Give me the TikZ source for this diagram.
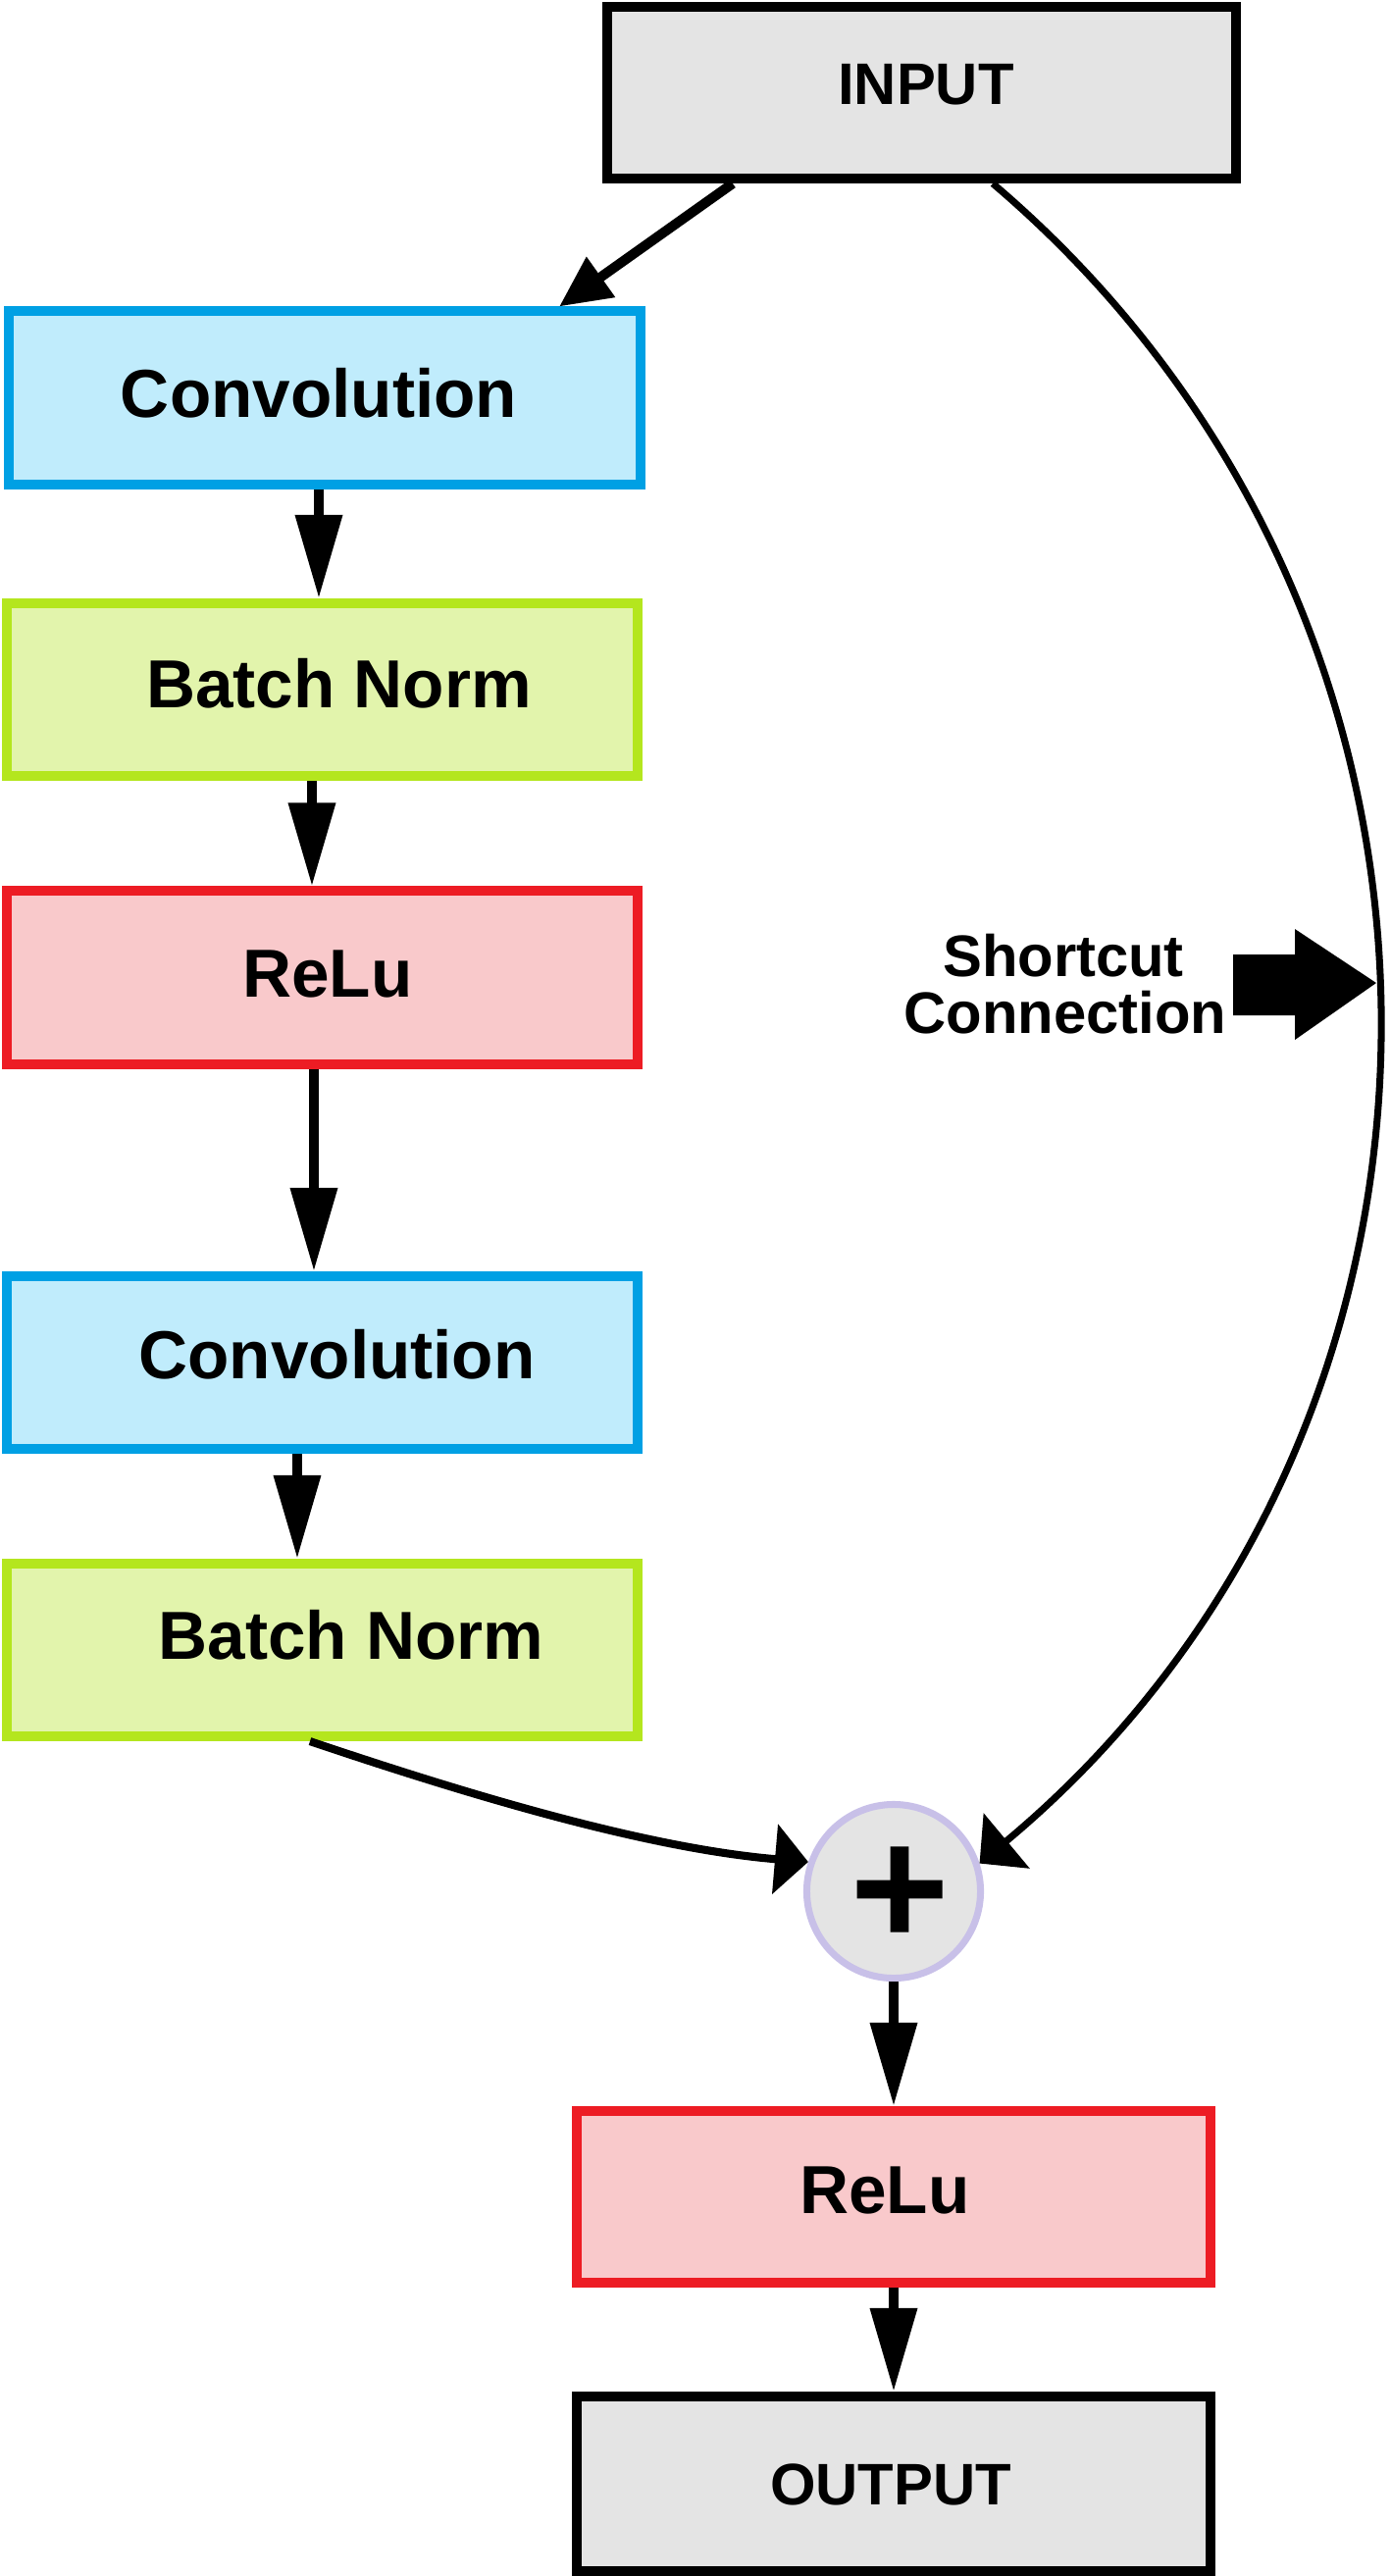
\documentclass[tikz,border=0pt]{standalone}
\usepackage{fontspec}
\setmainfont{Liberation Sans}
\newfontfamily\plusfont[FakeBold=2.5]{DejaVu Sans Bold}
\usetikzlibrary{arrows.meta}
\definecolor{convfill}{RGB}{192,236,252}
\definecolor{convdraw}{RGB}{0,160,228}
\definecolor{bnfill}{RGB}{226,244,172}
\definecolor{bndraw}{RGB}{180,230,30}
\definecolor{relufill}{RGB}{249,201,203}
\definecolor{reludraw}{RGB}{237,28,36}
\definecolor{iofill}{RGB}{228,228,228}
\definecolor{plusdraw}{RGB}{200,192,232}
\begin{document}
\begin{tikzpicture}[x=0.01cm, y=-0.01cm,
  box/.style={rectangle, line width=2.85pt, inner sep=0pt, minimum width=6.43cm, minimum height=1.76cm},
  convbox/.style={box, draw=convdraw, fill=convfill},
  bnbox/.style={box, draw=bndraw, fill=bnfill},
  relubox/.style={box, draw=reludraw, fill=relufill},
  iobox/.style={box, draw=black, fill=iofill},
  lbl/.style={anchor=base, inner sep=0pt, font=\fontsize{19.7}{23}\selectfont\bfseries},
  smlbl/.style={anchor=base, inner sep=0pt, font=\fontsize{17}{20}\selectfont\bfseries},
  varr/.style={line width=2.85pt, -{Triangle[length=8.5mm, width=4.6mm]}},
  iarr/.style={line width=2.85pt, -{Triangle[length=5.2mm, width=4.8mm]}},
  larr/.style={line width=2.3pt, -{Triangle[length=3.4mm, width=7mm]}},
  sarr/.style={line width=2pt, -{Triangle[length=3.6mm, width=7.2mm]}}
]
\useasboundingbox (0,0) rectangle (1417,2626);

% boxes
\node[iobox, minimum width=6.41cm, minimum height=1.75cm] (inp) at (939.5,94.5) {};
\node[convbox] (c1) at (331,405.5) {};
\node[bnbox] (b1) at (328.5,703) {};
\node[relubox] (r1) at (328.5,996.5) {};
\node[convbox] (c2) at (328.5,1389) {};
\node[bnbox] (b2) at (328.5,1682) {};
\node[circle, draw=plusdraw, fill=iofill, line width=2pt, inner sep=0pt, minimum size=1.77cm] (plus) at (911,1928) {};
\node[relubox, minimum width=6.46cm, minimum height=1.75cm] (r2) at (911,2239.5) {};
\node[iobox, minimum width=6.46cm, minimum height=1.78cm] (out) at (911,2532) {};

% labels
\node[smlbl] (tinp) at (944,106) {INPUT};
\node[lbl] (tc1) at (325,425) {Convolution};
\node[lbl] (tb1) at (345.5,721) {Batch Norm};
\node[lbl] (tr1) at (334,1016) {ReLu};
\node[lbl] (tc2) at (343.5,1405) {Convolution};
\node[lbl] (tb2) at (358,1691) {Batch Norm};
\node[lbl] (tr2) at (902,2256) {ReLu};
\node[smlbl] (tout) at (908,2553) {OUTPUT};
\node[smlbl] (tsc1) at (1084,995) {Shortcut};
\node[smlbl] (tsc2) at (1086,1053) {Connection};
\node[inner sep=0pt, font=\plusfont\fontsize{38}{38}\selectfont] (psign) at (917,1926) {+};

% connectors
\draw[iarr] ([xshift=-1.925cm]inp.south) -- ([xshift=2.39cm]c1.north);
\draw[varr] ([xshift=-0.06cm]c1.south) -- ([xshift=-0.06cm]c1.south |- b1.north);
\draw[varr] ([xshift=-0.105cm]b1.south) -- ([xshift=-0.105cm]b1.south |- r1.north);
\draw[varr] ([xshift=-0.085cm]r1.south) -- ([xshift=-0.085cm]r1.south |- c2.north);
\draw[varr] ([xshift=-0.255cm]c2.south) -- ([xshift=-0.255cm]c2.south |- b2.north);
\draw[varr] (plus.south) -- (r2.north);
\draw[varr] (r2.south) -- (out.north);
\draw[larr] ([xshift=-0.125cm]b2.south) .. controls (476,1829) and (658,1884) .. (plus.161);
\draw[sarr] ([xshift=0.725cm]inp.south) .. controls (1544,639) and (1532,1455) .. (plus.18);

% fat shortcut arrow
\fill[black] (1257,973) -- (1320,973) -- (1320,947) -- (1403,1002) -- (1320,1060) -- (1320,1035) -- (1257,1035) -- cycle;
\end{tikzpicture}
\end{document}
